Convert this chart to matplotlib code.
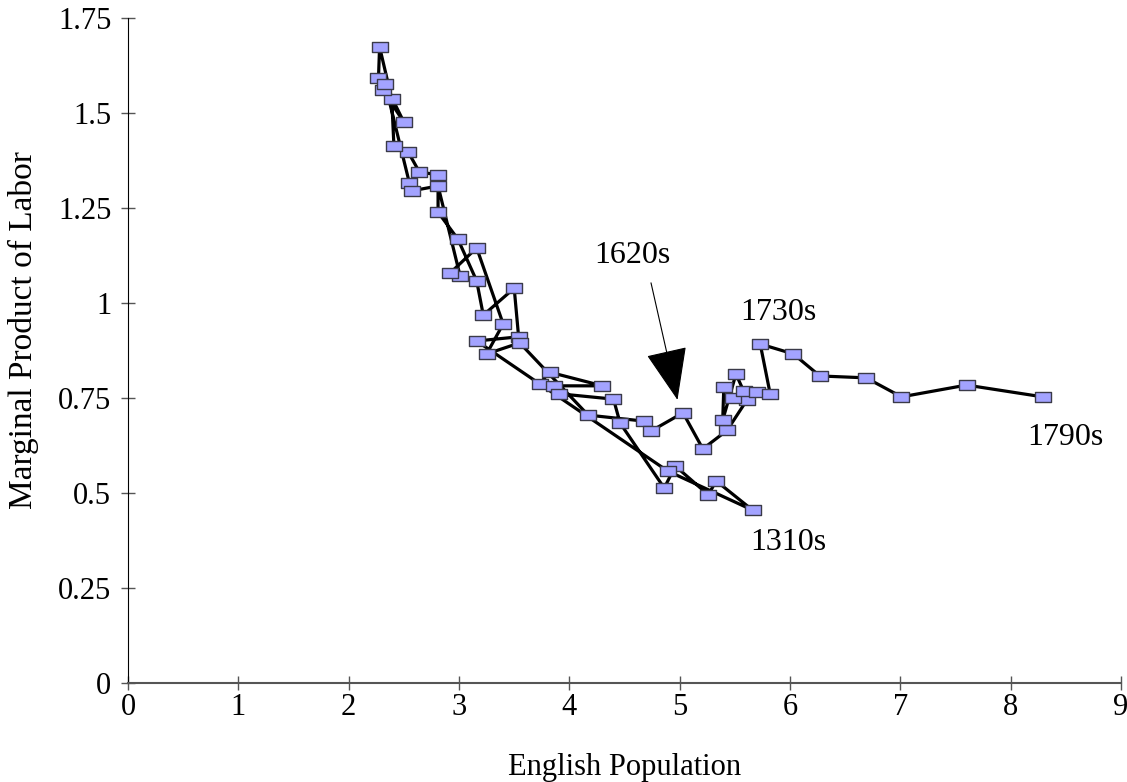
import matplotlib
matplotlib.use("Agg")
import matplotlib.pyplot as plt
from matplotlib.path import Path

# English population (millions) and marginal product of labor, by decade (path order)
population = [
    3.73, 3.82, 4.30, 3.86, 3.91, 4.40, 4.46, 4.86, 4.96, 5.26, 5.33, 5.66,
    4.89, 3.16, 3.54, 3.50, 3.22, 3.16, 2.99, 2.81, 2.81, 2.64, 2.54, 2.41,
    2.39, 2.28, 2.27, 2.31, 2.50, 2.33, 2.55, 2.57, 2.81, 3.01, 2.92, 3.16,
    3.40, 3.25, 3.55, 4.17, 4.68, 4.74,
    5.03, 5.21, 5.43, 5.61, 5.48, 5.40, 5.39, 5.51, 5.58, 5.70, 5.82, 5.73,
    6.03, 6.27, 6.69, 7.01, 7.60, 8.29,
]
mpl_labor = [
    0.787, 0.818, 0.782, 0.782, 0.761, 0.747, 0.684, 0.513, 0.571, 0.495, 0.532, 0.455,
    0.558, 0.900, 0.911, 1.039, 0.968, 1.058, 1.168, 1.239, 1.337, 1.345, 1.397, 1.413,
    1.537, 1.674, 1.592, 1.560, 1.476, 1.576, 1.316, 1.295, 1.308, 1.071, 1.079, 1.145,
    0.945, 0.866, 0.895, 0.705, 0.689, 0.663,
    0.711, 0.616, 0.665, 0.745, 0.750, 0.779, 0.692, 0.813, 0.768, 0.766, 0.761, 0.892,
    0.866, 0.808, 0.803, 0.753, 0.784, 0.753,
]

labels = ["1310s", "1620s", "1730s", "1790s"]
x_ticks = [0, 1, 2, 3, 4, 5, 6, 7, 8, 9]
y_ticks = [0, 0.25, 0.5, 0.75, 1, 1.25, 1.5, 1.75]
y_ticklabels = ["0", "0.25", "0.5", "0.75", "1", "1.25", "1.5", "1.75"]

plt.rcParams['font.family'] = ['Liberation Serif', 'DejaVu Serif']

fig = plt.figure(figsize=(11.27, 7.82), dpi=100)
ax = fig.add_axes([0.1136, 0.1266, 0.8811, 0.8504])

rect = Path([(-1, -0.68), (1, -0.68), (1, 0.68), (-1, 0.68), (-1, -0.68)],
            [Path.MOVETO, Path.LINETO, Path.LINETO, Path.LINETO, Path.CLOSEPOLY])

ax.plot(population, mpl_labor, color='black', lw=2.3, marker=rect, markersize=11.5,
        markerfacecolor='#a3a3ff', markeredgecolor='#3a3a48', markeredgewidth=1.0,
        zorder=3)

ax.set_xlim(0, 9)
ax.set_ylim(0, 1.75)
ax.set_xticks(x_ticks)
ax.set_yticks(y_ticks)
ax.set_yticklabels(y_ticklabels)
ax.tick_params(direction='inout', length=10, width=1, labelsize=22, color='#555555')
ax.tick_params(axis='x', pad=2)
ax.tick_params(axis='y', pad=7)
ax.spines['top'].set_visible(False)
ax.spines['right'].set_visible(False)
ax.spines['left'].set_color('black')
ax.spines['bottom'].set_color('#555555')
ax.spines['bottom'].set_linewidth(1.5)

ax.set_xlabel("English Population", fontsize=22)
ax.xaxis.set_label_coords(0.5, -0.105)
ax.set_ylabel("Marginal Product of Labor", fontsize=24)
ax.yaxis.set_label_coords(-0.09, 0.53)

# labels
ax.text(5.64, 0.371, labels[0], fontsize=23, ha='left', va='center')
ax.text(4.57, 1.126, labels[1], fontsize=23, ha='center', va='center')
ax.text(5.55, 0.976, labels[2], fontsize=23, ha='left', va='center')
ax.text(8.15, 0.647, labels[3], fontsize=23, ha='left', va='center')

ax.annotate("", xy=(4.98, 0.745), xytext=(4.74, 1.053),
            arrowprops=dict(arrowstyle="-|>,head_length=3.4,head_width=1.35",
                            mutation_scale=10, lw=0.8, color='black',
                            shrinkA=0, shrinkB=0))

fig.savefig("out.png", dpi=100)
